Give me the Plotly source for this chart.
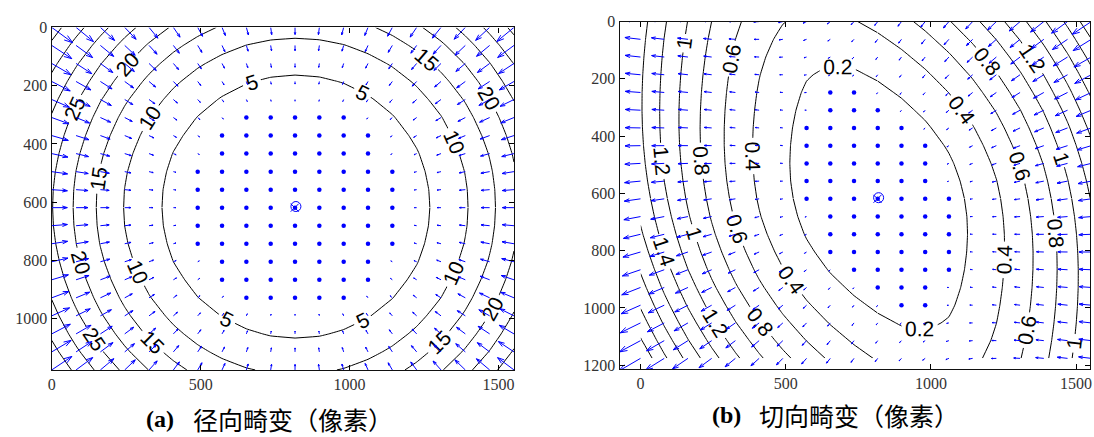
import numpy as np
import plotly.graph_objects as go
import plotly.figure_factory as ff

# ---------------- values ----------------
GRID_COLS = 20
GRID_ROWS = 20
GRID_X_STEP = 81.7            # image px between arrow columns
GRID_Y_STEP = 61.9            # image px between arrow rows
PRINCIPAL_POINT = [820.0, 615.0]   # 'o' marker
IMAGE_CENTER = [816.0, 619.0]      # 'x' marker
# radial distortion magnitude (px) = c1*r^3 + c2*r^5, r = distance / 1000 px (pointing to centre)
RADIAL_COEFFS = [57.3, -17.2]
# tangential distortion coefficients p1, p2 (px at r = 1000 px)
TANGENTIAL_COEFFS = [0.318, -0.746]
RADIAL_LEVELS = [5, 10, 15, 20, 25, 30, 35, 40]
TANGENTIAL_LEVELS = [0.2, 0.4, 0.6, 0.8, 1.0, 1.2, 1.4, 1.6, 1.8, 2.0, 2.2]
X_TICKS = [0, 500, 1000, 1500]
Y_TICKS_A = [0, 200, 400, 600, 800, 1000]
Y_TICKS_B = [0, 200, 400, 600, 800, 1000, 1200]
CAPTION_TAGS = ["(a)", "(b)"]
CAPTION_TEXTS = ["径向畸变（像素）", "切向畸变（像素）"]

# ---------------- layout (pixels of the 1094x437 page) ----------------
W, H = 1094, 437
PANEL_A = dict(left=48, right=513, top=20, bottom=373, xr=[0, 1553], yr=[1176, 0])
PANEL_B = dict(left=619, right=1092, top=14, bottom=372, xr=[-72, 1548], yr=[1213, 0])
BLUE = "#0000FF"

gx = np.arange(GRID_COLS) * GRID_X_STEP
gy = np.arange(GRID_ROWS) * GRID_Y_STEP
X, Y = np.meshgrid(gx, gy)
U = (X - PRINCIPAL_POINT[0]) / 1000.0
V = (Y - PRINCIPAL_POINT[1]) / 1000.0
R2 = U ** 2 + V ** 2

# radial field (towards centre)
c1, c2 = RADIAL_COEFFS
fr = c1 * R2 + c2 * R2 ** 2
dxa, dya = -fr * U, -fr * V
mag_a = np.hypot(dxa, dya)

# tangential field
p1, p2 = TANGENTIAL_COEFFS
dxb = 2 * p1 * U * V + p2 * (R2 + 2 * U ** 2)
dyb = p1 * (R2 + 2 * V ** 2) + 2 * p2 * U * V
mag_b = np.hypot(dxb, dyb)


def matlab_scale(mag):
    delx = (gx.max() - gx.min()) / GRID_COLS
    dely = (gy.max() - gy.min()) / GRID_ROWS
    return 0.9 * np.sqrt(delx ** 2 + dely ** 2) / mag.max()


def px_per_unit(p):
    return (p["right"] - p["left"]) / (p["xr"][1] - p["xr"][0])


fig = go.Figure()

# split each field in four blocks around the centre so every quarter of each
# contour gets its own label (like MATLAB clabel)
ci = int(round(PRINCIPAL_POINT[0] / GRID_X_STEP))
ri = int(round(PRINCIPAL_POINT[1] / GRID_Y_STEP))
BLOCKS = [((0, ri), (0, ci)), ((0, ri), (ci, GRID_COLS - 1)),
          ((ri, GRID_ROWS - 1), (0, ci)), ((ri, GRID_ROWS - 1), (ci, GRID_COLS - 1))]


def add_panel(dx, dy, mag, levels, fmt, panel, xa, ya):
    for (r0, r1), (c0, c1_) in BLOCKS:
        fig.add_trace(go.Contour(
            x=gx[c0:c1_ + 1], y=gy[r0:r1 + 1], z=mag[r0:r1 + 1, c0:c1_ + 1],
            xaxis=xa, yaxis=ya, showscale=False, hoverinfo="skip",
            contours=dict(start=levels[0], end=levels[-1], size=levels[1] - levels[0],
                          coloring="none", showlabels=True, labelformat=fmt,
                          labelfont=dict(family="Liberation Sans", size=21, color="black")),
            line=dict(color="black", width=1, smoothing=0.3)))
    s = matlab_scale(mag)
    L = mag * s * px_per_unit(panel)
    big = L >= 1.6
    q = ff.create_quiver(X[big], Y[big], dx[big], dy[big], scale=s,
                         arrow_scale=0.34, angle=0.32,
                         line=dict(color=BLUE, width=1))
    tr = q.data[0]
    tr.update(xaxis=xa, yaxis=ya, hoverinfo="skip", showlegend=False)
    fig.add_trace(tr)
    fig.add_trace(go.Scatter(x=X[~big], y=Y[~big], mode="markers", xaxis=xa, yaxis=ya,
                             marker=dict(color=BLUE, size=4.5), hoverinfo="skip",
                             showlegend=False))
    fig.add_trace(go.Scatter(x=[PRINCIPAL_POINT[0]], y=[PRINCIPAL_POINT[1]], mode="markers",
                             xaxis=xa, yaxis=ya, hoverinfo="skip", showlegend=False,
                             marker=dict(symbol="circle-open", size=10, color=BLUE,
                                         line=dict(width=1, color=BLUE))))
    fig.add_trace(go.Scatter(x=[IMAGE_CENTER[0]], y=[IMAGE_CENTER[1]], mode="markers",
                             xaxis=xa, yaxis=ya, hoverinfo="skip", showlegend=False,
                             marker=dict(symbol="x-thin", size=8, color=BLUE,
                                         line=dict(width=1, color=BLUE))))


add_panel(dxa, dya, mag_a, RADIAL_LEVELS, ".0f", PANEL_A, "x", "y")
add_panel(dxb, dyb, mag_b, TANGENTIAL_LEVELS, "~g", PANEL_B, "x2", "y2")


def axis_style(p, horizontal, ticks, anchor):
    dom = ([p["left"] / W, p["right"] / W] if horizontal
           else [1 - p["bottom"] / H, 1 - p["top"] / H])
    return dict(domain=dom, range=p["xr"] if horizontal else p["yr"], autorange=False,
                tickvals=ticks, ticktext=[str(t) for t in ticks],
                showline=True, mirror="ticks", linecolor="#111111", linewidth=1.4,
                ticks="inside", ticklen=5, tickcolor="black", tickwidth=1,
                showgrid=False, zeroline=False, anchor=anchor,
                tickfont=dict(family="Liberation Serif", size=16, color="#333333"))


fig.update_layout(
    width=W, height=H, margin=dict(l=0, r=0, t=0, b=0),
    paper_bgcolor="white", plot_bgcolor="white", showlegend=False,
    xaxis=axis_style(PANEL_A, True, X_TICKS, "y"),
    yaxis=axis_style(PANEL_A, False, Y_TICKS_A, "x"),
    xaxis2=axis_style(PANEL_B, True, X_TICKS, "y2"),
    yaxis2=axis_style(PANEL_B, False, Y_TICKS_B, "x2"),
)

CAPTION_POS = [(141, 188, 424), (710, 757, 419)]
for tag, txt, (xt, xc, yc) in zip(CAPTION_TAGS, CAPTION_TEXTS, CAPTION_POS):
    fig.add_annotation(x=xt / W, y=1 - yc / H, xref="paper", yref="paper", showarrow=False,
                       xanchor="left", yanchor="middle", text="<b>" + tag + "</b>",
                       font=dict(family="Liberation Serif", size=24, color="black"))
    fig.add_annotation(x=xc / W, y=1 - yc / H, xref="paper", yref="paper", showarrow=False,
                       xanchor="left", yanchor="middle", text=txt,
                       font=dict(family="Noto Sans CJK SC", size=25, color="black"))

fig.write_html("out.html")
